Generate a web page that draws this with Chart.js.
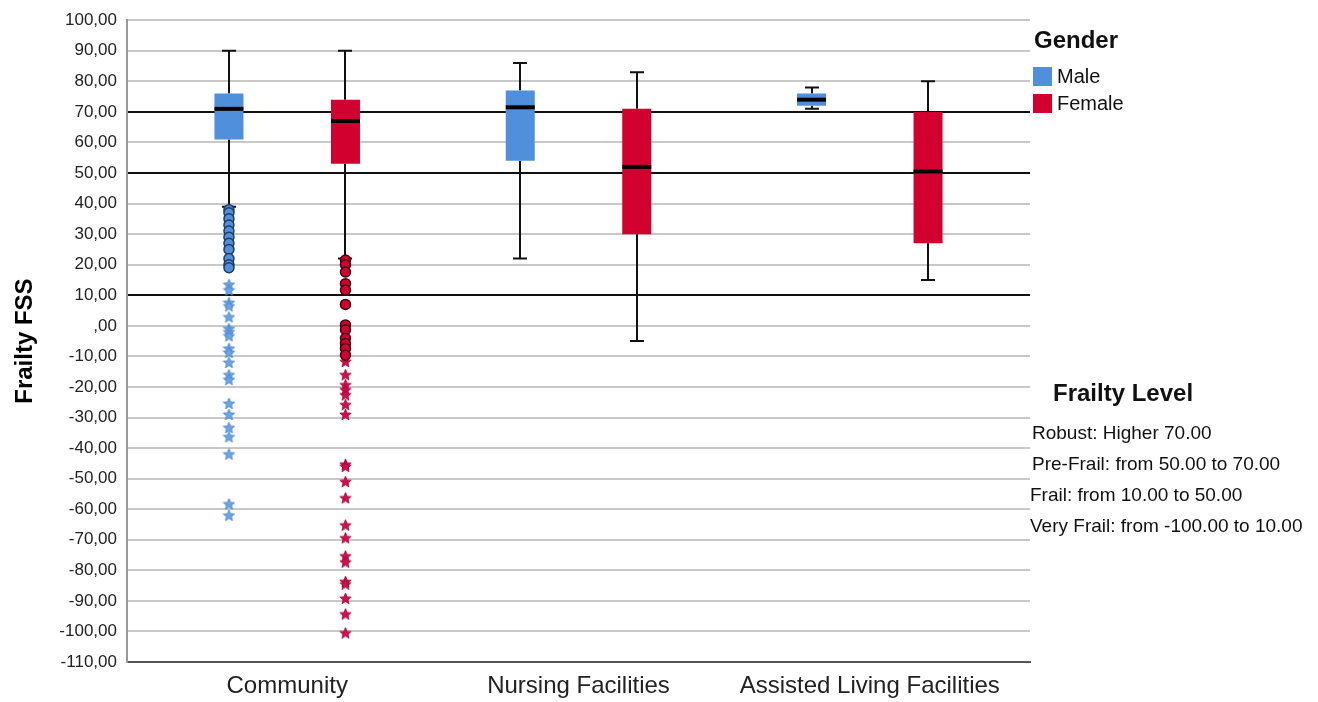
<!DOCTYPE html>
<html>
<head>
<meta charset="utf-8">
<script src="https://cdn.jsdelivr.net/npm/chart.js@4"></script>
<style>
  html, body { margin:0; padding:0; background:#fff; }
  #wrap { position:relative; width:1318px; height:702px; font-family: Arial, 'Liberation Sans', sans-serif; color:#111; }
  #chart { position:absolute; left:0; top:0; }
  .lg-title { position:absolute; font-weight:bold; font-size:24px; line-height:28px; }
  .lg-item { position:absolute; font-size:20px; line-height:22px; }
  .lg-item span { position:absolute; left:0; top:2px; width:19px; height:19px; }
  .lg-item b { font-weight:normal; position:absolute; left:24px; top:0; white-space:nowrap; }
  .fl-line { position:absolute; font-size:19px; line-height:22px; white-space:nowrap; }
</style>
</head>
<body>
<div id="wrap">
  <canvas id="chart" width="1318" height="702"></canvas>
  <div class="lg-title" style="left:1034px; top:26px;">Gender</div>
  <div class="lg-item" style="left:1033px; top:65px;"><span style="background:#4f8fdc"></span><b>Male</b></div>
  <div class="lg-item" style="left:1033px; top:92px;"><span style="background:#d2002e"></span><b>Female</b></div>
  <div class="lg-title" style="left:1053px; top:379px;">Frailty Level</div>
  <div class="fl-line" style="left:1032px; top:422px;">Robust: Higher 70.00</div>
  <div class="fl-line" style="left:1032px; top:453px;">Pre-Frail: from 50.00 to 70.00</div>
  <div class="fl-line" style="left:1030px; top:484px;">Frail: from 10.00 to 50.00</div>
  <div class="fl-line" style="left:1030px; top:515px;">Very Frail: from -100.00 to 10.00</div>
</div>
<script>
// categorías del eje X
const categories = ['Community', 'Nursing Facilities', 'Assisted Living Facilities'];

// cajas (Q1, mediana, Q3) y bigotes por grupo
const maleQ1 = [61, 54, 72];
const maleMedian = [71, 71.5, 74];
const maleQ3 = [76, 77, 76];
const maleLow = [39, 22, 71];
const maleHigh = [90, 86, 78];

const femaleQ1 = [53, 30, 27];
const femaleMedian = [67, 52, 50.5];
const femaleQ3 = [74, 71, 70];
const femaleLow = [22, -5, 15];
const femaleHigh = [90, 83, 80];

// atípicos (solo Community)
const maleCircles = [38, 37, 35, 33, 31, 29, 27, 25, 22, 20, 19];
const maleStars = [13.5, 11.7, 7.6, 6.5, 2.9, -0.9, -2, -3.3, -7.4, -8.7, -12, -16, -17.6, -25.4, -29, -33.3, -36.3, -42, -58.3, -62];
const femaleCircles = [21.5, 20, 17.6, 13.8, 11.7, 7, 0.3, -1.3, -4.1, -5.8, -7.4, -9.6];
const femaleStars = [-11.7, -16, -19.3, -20.9, -22.6, -25.8, -29, -45.3, -46, -51, -56.3, -65.2, -69.4, -75.3, -77.3, -83.7, -84.5, -89.2, -94.3, -100.5];

// líneas de referencia (niveles de fragilidad)
const refLines = [70, 50, 10];
const yMin = -110, yMax = 100, yStep = 10;

const BLUE = '#4f8fdc', RED = '#d2002e';

function starCanvas(fill, stroke) {
    const c = document.createElement('canvas');
    c.width = 13; c.height = 13;
    const g = c.getContext('2d');
    g.beginPath();
    for (let i = 0; i < 10; i++) {
        const r = i % 2 === 0 ? 6 : 2.6;
        const a = -Math.PI / 2 + i * Math.PI / 5;
        const px = 6.5 + r * Math.cos(a), py = 7 + r * Math.sin(a);
        i === 0 ? g.moveTo(px, py) : g.lineTo(px, py);
    }
    g.closePath();
    g.fillStyle = fill; g.fill();
    g.strokeStyle = stroke; g.lineWidth = 0.8; g.stroke();
    return c;
}

const boxes = [
    { pos: -0.2, q1: maleQ1, med: maleMedian, q3: maleQ3, lo: maleLow, hi: maleHigh },
    { pos: 0.2, q1: femaleQ1, med: femaleMedian, q3: femaleQ3, lo: femaleLow, hi: femaleHigh }
];

// bigotes debajo de las cajas, medianas encima
const boxParts = {
    id: 'boxParts',
    beforeDatasetsDraw(chart) {
        const { ctx, scales: { x, y } } = chart;
        ctx.save();
        ctx.strokeStyle = '#111';
        ctx.lineWidth = 2;
        boxes.forEach(b => {
            categories.forEach((c, i) => {
                const cx = Math.round(x.getPixelForValue(i + 1 + b.pos));
                ctx.beginPath();
                ctx.moveTo(cx, y.getPixelForValue(b.hi[i]));
                ctx.lineTo(cx, y.getPixelForValue(b.q3[i]));
                ctx.moveTo(cx, y.getPixelForValue(b.q1[i]));
                ctx.lineTo(cx, y.getPixelForValue(b.lo[i]));
                [b.hi[i], b.lo[i]].forEach(v => {
                    const py = y.getPixelForValue(v);
                    ctx.moveTo(cx - 7, py); ctx.lineTo(cx + 7, py);
                });
                ctx.stroke();
            });
        });
        ctx.restore();
    },
    afterDatasetsDraw(chart) {
        const { ctx, scales: { x, y } } = chart;
        ctx.save();
        ctx.strokeStyle = '#000';
        ctx.lineWidth = 4;
        boxes.forEach(b => {
            categories.forEach((c, i) => {
                const cx = x.getPixelForValue(i + 1 + b.pos);
                const py = y.getPixelForValue(b.med[i]);
                ctx.beginPath();
                ctx.moveTo(cx - 14.5, py); ctx.lineTo(cx + 14.5, py);
                ctx.stroke();
            });
        });
        ctx.restore();
    }
};

const pts = (vals, xv) => vals.map(v => ({ x: xv, y: v }));

new Chart(document.getElementById('chart'), {
    type: 'bar',
    data: {
        datasets: [
            { type: 'scatter', label: 'mc', data: pts(maleCircles, 0.8), order: 1,
              pointStyle: 'circle', pointRadius: 5, backgroundColor: BLUE, borderColor: '#1d3d66', borderWidth: 1.5 },
            { type: 'scatter', label: 'ms', data: pts(maleStars, 0.8), order: 1,
              pointStyle: starCanvas('#6aa5e6', '#3f7fcf'), pointRadius: 6 },
            { type: 'scatter', label: 'fc', data: pts(femaleCircles, 1.2), order: 1,
              pointStyle: 'circle', pointRadius: 5, backgroundColor: RED, borderColor: '#4a0012', borderWidth: 1.5 },
            { type: 'scatter', label: 'fs', data: pts(femaleStars, 1.2), order: 1,
              pointStyle: starCanvas('#d0104a', '#a8003a'), pointRadius: 6 },
            { label: 'Male', order: 2, grouped: false, maxBarThickness: 29, backgroundColor: BLUE, borderWidth: 0,
              data: categories.map((c, i) => ({ x: i + 0.8, y: [maleQ1[i], maleQ3[i]] })) },
            { label: 'Female', order: 2, grouped: false, maxBarThickness: 29, backgroundColor: RED, borderWidth: 0,
              data: categories.map((c, i) => ({ x: i + 1.2, y: [femaleQ1[i], femaleQ3[i]] })) }
        ]
    },
    options: {
        responsive: false,
        animation: false,
        layout: { padding: { top: 17, right: 288, bottom: 0, left: 0 } },
        plugins: { legend: { display: false }, tooltip: { enabled: false } },
        scales: {
            x: {
                type: 'linear', min: 0.45, max: 3.55, offset: false,
                grid: { display: false, drawTicks: false },
                border: { color: '#555', width: 2 },
                afterBuildTicks: s => { s.ticks = categories.map((c, i) => ({ value: i + 1 })); },
                afterFit: s => { s.height = 40; },
                ticks: {
                    autoSkip: false, maxRotation: 0, padding: 10, color: '#222',
                    font: { family: "Arial, 'Liberation Sans', sans-serif", size: 24 },
                    callback: v => categories[Math.round(v) - 1] || ''
                }
            },
            y: {
                min: yMin, max: yMax,
                grid: {
                    drawTicks: false,
                    lineWidth: 2,
                    color: c => refLines.includes(c.tick.value) ? '#111' : '#c8c8c8'
                },
                border: { color: '#999', width: 2 },
                afterFit: s => { s.width = 127; },
                title: {
                    display: true, text: 'Frailty FSS', color: '#000',
                    padding: { top: 11, bottom: 0 },
                    font: { family: "Arial, 'Liberation Sans', sans-serif", size: 24, weight: 'bold' }
                },
                ticks: {
                    stepSize: yStep, padding: 10, color: '#222',
                    font: { family: "Arial, 'Liberation Sans', sans-serif", size: 17 },
                    callback: v => v === 0 ? ',00' : v.toFixed(2).replace('.', ',')
                }
            }
        }
    },
    plugins: [boxParts]
});
</script>
</body>
</html>
